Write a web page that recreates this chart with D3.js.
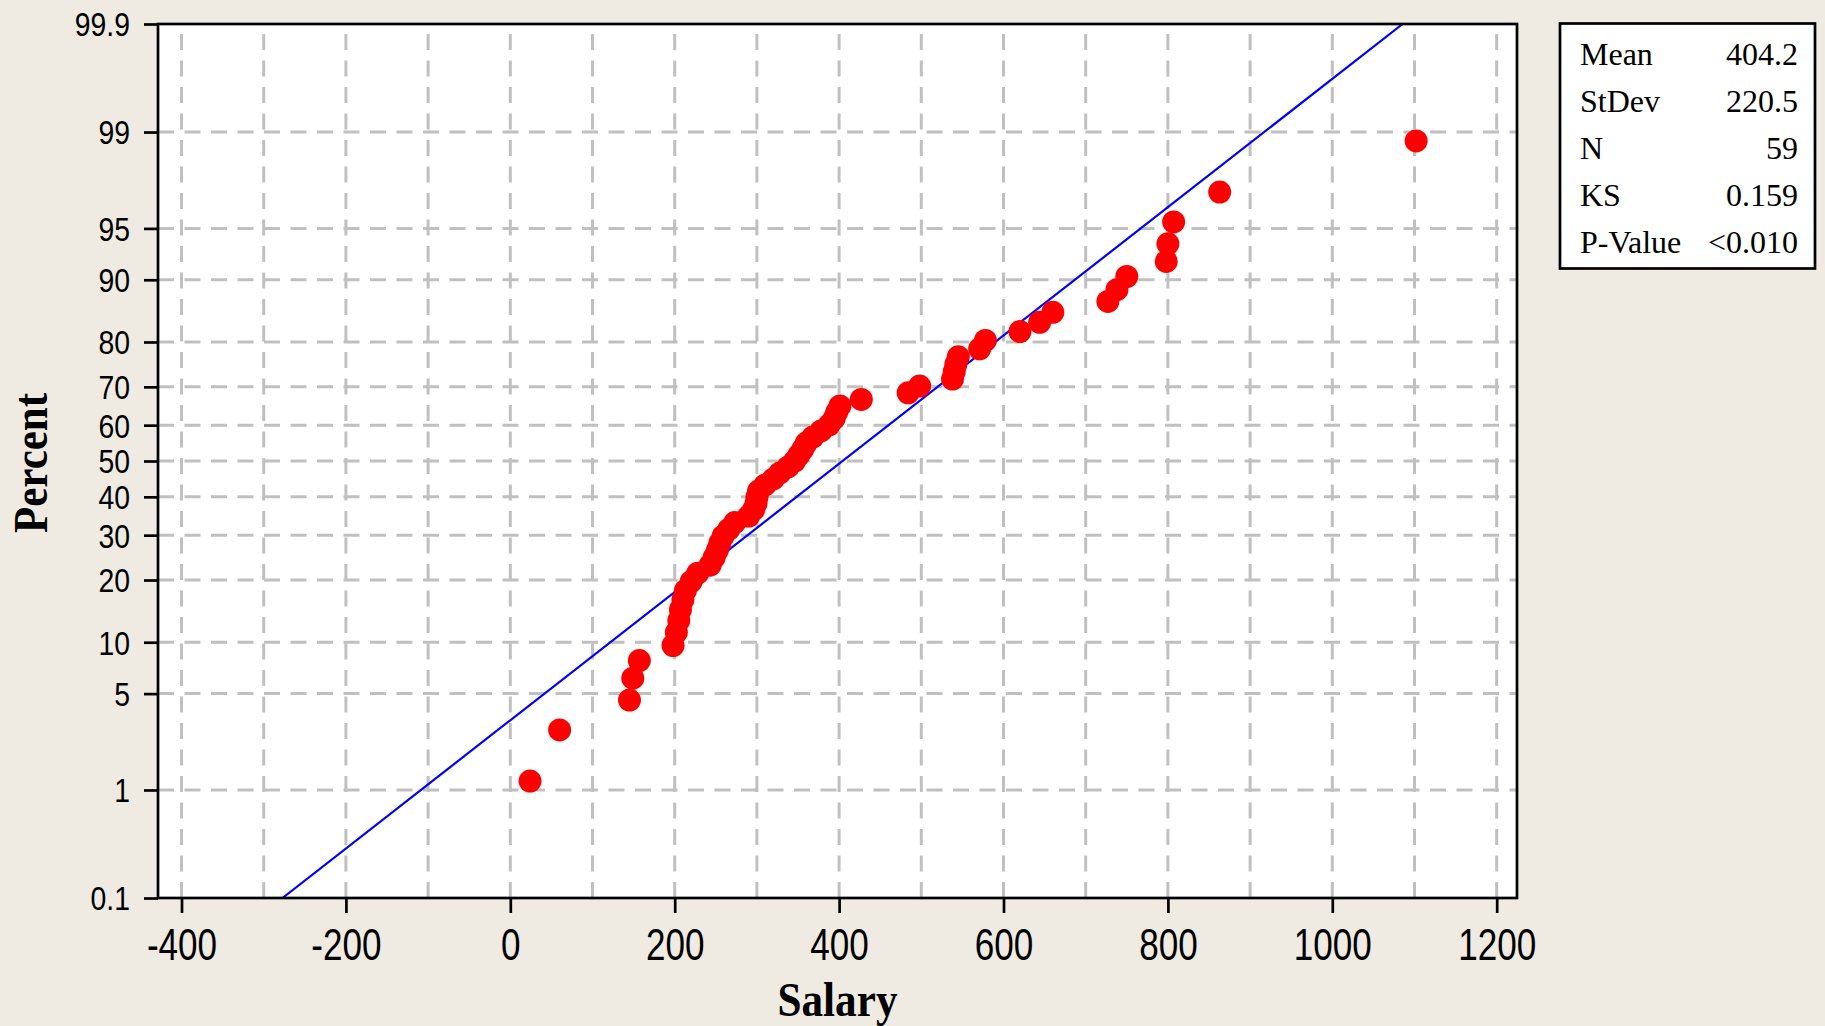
<!DOCTYPE html>
<html>
<head>
<meta charset="utf-8">
<script src="https://cdn.jsdelivr.net/npm/d3@7"></script>
<style>
  body { margin: 0; background: #efebe2; }
  svg { display: block; }
</style>
</head>
<body>
<div id="chart"></div>
<script>
// salary values, sorted ascending
var salary = [24, 60, 145, 149, 157, 198, 202, 205, 207, 210,
              213, 220, 228, 243, 248, 252, 255, 259, 266, 273,
              290, 296, 299, 300, 302, 310, 320, 328, 338, 346,
              351, 356, 360, 368, 378, 388, 394, 397, 401, 427,
              484, 498, 538, 540, 542, 545, 571, 578, 620, 644,
              660, 727, 738, 750, 798, 800, 807, 863, 1102];
// plotted percent of each point
var percent = [1.18, 2.86, 4.55, 6.23, 7.91, 9.60, 11.28, 12.96, 14.65, 16.33,
               18.01, 19.70, 21.38, 23.06, 24.75, 26.43, 28.11, 29.80, 31.48, 33.16,
               34.85, 36.53, 38.22, 39.90, 41.58, 43.27, 44.95, 46.63, 48.32, 50.00,
               51.68, 53.37, 55.05, 56.73, 58.42, 60.10, 61.78, 63.47, 65.15, 66.84,
               68.52, 70.20, 71.89, 73.57, 75.25, 76.94, 78.62, 80.30, 81.99, 83.67,
               85.35, 87.04, 88.72, 90.40, 92.09, 93.77, 95.45, 97.14, 98.82];

var yTicks = [0.1, 1, 5, 10, 20, 30, 40, 50, 60, 70, 80, 90, 95, 99, 99.9];
var yGrid = [1, 5, 10, 20, 30, 40, 50, 60, 70, 80, 90, 95, 99];
var xTicks = [-400, -200, 0, 200, 400, 600, 800, 1000, 1200];
var xGrid = [-400, -300, -200, -100, 0, 100, 200, 300, 400, 500, 600, 700, 800, 900, 1000, 1100, 1200];

var statLabels = ["Mean", "StDev", "N", "KS", "P-Value"];
var statValues = ["404.2", "220.5", "59", "0.159", "<0.010"];
var fitMean = 404.2, fitStDev = 220.5;

// inverse normal cdf (Acklam)
function probit(p) {
  var a = [-3.969683028665376e+01, 2.209460984245205e+02, -2.759285104469687e+02, 1.383577518672690e+02, -3.066479806614716e+01, 2.506628277459239e+00],
      b = [-5.447609879822406e+01, 1.615858368580409e+02, -1.556989798598866e+02, 6.680131188771972e+01, -1.328068155288572e+01],
      c = [-7.784894002430293e-03, -3.223964580411365e-01, -2.400758277161838e+00, -2.549732539343734e+00, 4.374664141464968e+00, 2.938163982698783e+00],
      d = [7.784695709041462e-03, 3.224671290700398e-01, 2.445134137142996e+00, 3.754408661907416e+00];
  var pl = 0.02425, q, r;
  if (p < pl) {
    q = Math.sqrt(-2 * Math.log(p));
    return (((((c[0]*q+c[1])*q+c[2])*q+c[3])*q+c[4])*q+c[5]) / ((((d[0]*q+d[1])*q+d[2])*q+d[3])*q+1);
  }
  if (p <= 1 - pl) {
    q = p - 0.5; r = q * q;
    return (((((a[0]*r+a[1])*r+a[2])*r+a[3])*r+a[4])*r+a[5])*q / (((((b[0]*r+b[1])*r+b[2])*r+b[3])*r+b[4])*r+1);
  }
  q = Math.sqrt(-2 * Math.log(1 - p));
  return -(((((c[0]*q+c[1])*q+c[2])*q+c[3])*q+c[4])*q+c[5]) / ((((d[0]*q+d[1])*q+d[2])*q+d[3])*q+1);
}

var width = 1825, height = 1026;
var margin = {top: 24, right: 308, bottom: 128, left: 158};
var plotW = width - margin.left - margin.right,
    plotH = height - margin.top - margin.bottom;

var svg = d3.select("#chart").append("svg")
    .attr("width", width)
    .attr("height", height);

svg.append("rect").attr("width", width).attr("height", height).attr("fill", "#efebe2");

var g = svg.append("g").attr("transform", "translate(" + margin.left + "," + margin.top + ")");

var x = d3.scaleLinear().domain([-428.6, 1224.7]).range([0, plotW]);
var zy = d3.scaleLinear().domain([probit(0.001), probit(0.999)]).range([plotH, 0]);
function y(p) { return zy(probit(p / 100)); }

g.append("rect").attr("width", plotW).attr("height", plotH).attr("fill", "#fff");

g.append("clipPath").attr("id", "clip")
  .append("rect").attr("width", plotW).attr("height", plotH);

// grid
var grid = g.append("g")
    .attr("stroke", "#c0c0c0")
    .attr("stroke-width", 3)
    .attr("stroke-dasharray", "16,10.5");
grid.selectAll(".gx").data(xGrid).enter().append("line")
    .attr("x1", function(d) { return x(d); }).attr("x2", function(d) { return x(d); })
    .attr("y1", plotH).attr("y2", 4);
grid.selectAll(".gy").data(yGrid).enter().append("line")
    .attr("x1", 0).attr("x2", plotW)
    .attr("y1", function(d) { return y(d); }).attr("y2", function(d) { return y(d); });

// fitted normal line
var zr = zy.domain();
var line = d3.line()
    .x(function(z) { return x(fitMean + z * fitStDev); })
    .y(function(z) { return zy(z); });
g.append("path")
    .attr("clip-path", "url(#clip)")
    .attr("d", line(zr))
    .attr("fill", "none")
    .attr("stroke", "#0000ff")
    .attr("stroke-width", 2.2);

// points
g.append("g").selectAll("circle")
    .data(salary)
    .enter().append("circle")
    .attr("cx", function(d) { return x(d); })
    .attr("cy", function(d, i) { return y(percent[i]); })
    .attr("r", 11.5)
    .attr("fill", "#ff0000");

// frame
g.append("rect").attr("width", plotW).attr("height", plotH)
    .attr("fill", "none").attr("stroke", "#000").attr("stroke-width", 2.7);

var sx = 0.78, sy = 0.86;

// x axis
var xAxis = g.append("g")
    .attr("transform", "translate(0," + plotH + ")")
    .call(d3.axisBottom(x).tickValues(xTicks).tickSize(15).tickFormat(function(d) { return String(d); }));
xAxis.select(".domain").remove();
xAxis.selectAll("line").attr("stroke", "#000").attr("stroke-width", 2.7);
xAxis.selectAll("text")
    .attr("fill", "#000")
    .attr("font-family", "'Liberation Sans', Arial, sans-serif")
    .attr("font-size", 45)
    .attr("y", 62).attr("dy", 0)
    .attr("transform", "scale(" + sx + ",1)");

// y axis
var yAxis = g.append("g")
    .call(d3.axisLeft(zy)
      .tickValues(yTicks.map(function(p) { return probit(p / 100); }))
      .tickFormat(function(d, i) { return String(yTicks[i]); })
      .tickSize(14));
yAxis.select(".domain").remove();
yAxis.selectAll("line").attr("stroke", "#000").attr("stroke-width", 2.7);
yAxis.selectAll("text")
    .attr("fill", "#000")
    .attr("font-family", "'Liberation Sans', Arial, sans-serif")
    .attr("font-size", 33)
    .attr("x", -28 / sy)
    .attr("dy", "0.36em")
    .attr("transform", "scale(" + sy + ",1)");

// titles
svg.append("text")
    .attr("x", margin.left + plotW / 2).attr("y", 1016)
    .attr("text-anchor", "middle")
    .attr("font-family", "'Liberation Serif', 'Times New Roman', serif")
    .attr("font-weight", "bold")
    .attr("font-size", 49)
    .attr("textLength", 120).attr("lengthAdjust", "spacingAndGlyphs")
    .text("Salary");

svg.append("text")
    .attr("transform", "translate(47,463) rotate(-90)")
    .attr("text-anchor", "middle")
    .attr("font-family", "'Liberation Serif', 'Times New Roman', serif")
    .attr("font-weight", "bold")
    .attr("font-size", 48)
    .attr("textLength", 140).attr("lengthAdjust", "spacingAndGlyphs")
    .text("Percent");

// stats box
var box = svg.append("g");
box.append("rect")
    .attr("x", 1560).attr("y", 23.5).attr("width", 255).attr("height", 245)
    .attr("fill", "#fff").attr("stroke", "#000").attr("stroke-width", 2.7);

var row = d3.scalePoint().domain(statLabels).range([65, 253]);
box.selectAll(".lab").data(statLabels).enter().append("text")
    .attr("x", 1580).attr("y", function(d) { return row(d); })
    .attr("font-family", "'Liberation Serif', 'Times New Roman', serif")
    .attr("font-size", 32)
    .text(function(d) { return d; });
box.selectAll(".val").data(statValues).enter().append("text")
    .attr("x", 1798).attr("y", function(d, i) { return row(statLabels[i]); })
    .attr("text-anchor", "end")
    .attr("font-family", "'Liberation Serif', 'Times New Roman', serif")
    .attr("font-size", 32)
    .text(function(d) { return d; });
</script>
</body>
</html>
